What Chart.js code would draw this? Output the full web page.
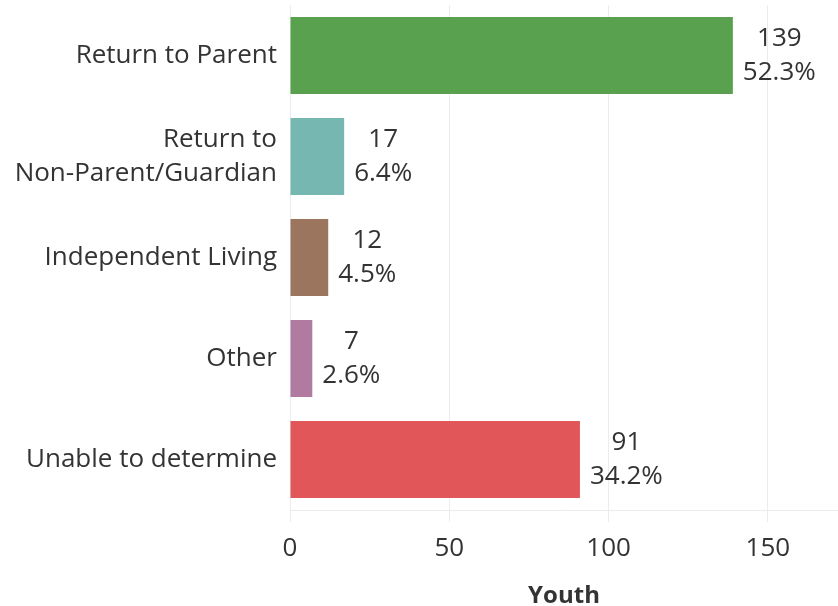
<!DOCTYPE html>
<html>
<head>
<meta charset="utf-8">
<script src="https://cdn.jsdelivr.net/npm/chart.js@4"></script>
<style>
  html, body { margin: 0; padding: 0; background: #fff; }
  #wrap { width: 838px; height: 606px; position: relative; }
</style>
</head>
<body>
<div id="wrap"><canvas id="grafica"></canvas></div>
<script>
// Datos
const categorias = [
    'Return to Parent',
    ['Return to', 'Non-Parent/Guardian'],
    'Independent Living',
    'Other',
    'Unable to determine'
];
const jovenes = [139, 17, 12, 7, 91];
const porcentajes = ['52.3%', '6.4%', '4.5%', '2.6%', '34.2%'];
const colores = ['#59a14f', '#76b7b2', '#9c755f', '#b07aa1', '#e15759'];
const marcasX = [0, 50, 100, 150];

const fuente = "'Open Sans', sans-serif";
const colorTexto = '#333333';

// Etiquetas de valor (conteo y porcentaje) a la derecha de cada barra
const etiquetasBarras = {
    id: 'etiquetasBarras',
    afterDatasetsDraw(chart) {
        const ctx = chart.ctx;
        const meta = chart.getDatasetMeta(0);
        ctx.save();
        ctx.font = '26px ' + fuente;
        ctx.fillStyle = colorTexto;
        ctx.textAlign = 'center';
        ctx.textBaseline = 'middle';
        meta.data.forEach((barra, i) => {
            const lineas = [String(jovenes[i]), porcentajes[i]];
            const ancho = Math.max(...lineas.map(t => ctx.measureText(t).width));
            const cx = barra.x + 10 + ancho / 2;
            ctx.fillText(lineas[0], cx, barra.y - 17);
            ctx.fillText(lineas[1], cx, barra.y + 17);
        });
        ctx.restore();
    }
};

const ctx = document.getElementById('grafica').getContext('2d');
new Chart(ctx, {
    type: 'bar',
    data: {
        labels: categorias,
        datasets: [{
            label: 'Youth',
            data: jovenes,
            backgroundColor: colores,
            borderWidth: 0,
            categoryPercentage: 1,
            barPercentage: 0.76
        }]
    },
    options: {
        indexAxis: 'y',
        responsive: true,
        maintainAspectRatio: false,
        animation: false,
        layout: { padding: { top: 5, right: 0, left: 0, bottom: 0 } },
        plugins: {
            legend: { display: false },
            tooltip: { enabled: false }
        },
        scales: {
            x: {
                min: 0,
                max: 172,
                afterBuildTicks: s => { s.ticks = marcasX.map(v => ({ value: v })); },
                afterFit: s => { s.height = 96; s.paddingLeft = 0; s.paddingRight = 0; },
                grid: { color: '#ececec', lineWidth: 1, tickLength: 12, drawOnChartArea: true },
                border: { display: true, color: '#ececec' },
                ticks: { font: { family: fuente, size: 26, lineHeight: 1.2 }, color: colorTexto, padding: 11 },
                title: {
                    display: true,
                    text: 'Youth',
                    font: { family: fuente, size: 24, weight: 'bold', lineHeight: 0.85 },
                    color: colorTexto,
                    padding: { top: 8, bottom: 0 }
                }
            },
            y: {
                afterFit: s => { s.width = 290; s.paddingTop = 0; s.paddingBottom = 0; },
                grid: { display: false, drawTicks: false },
                border: { display: false },
                ticks: {
                    font: { family: fuente, size: 26, lineHeight: 1.32 },
                    color: colorTexto,
                    padding: 13
                }
            }
        }
    },
    plugins: [etiquetasBarras]
});
</script>
</body>
</html>
